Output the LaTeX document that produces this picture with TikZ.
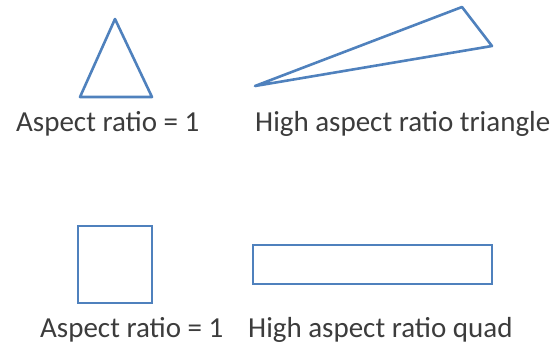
\documentclass[tikz,border=0pt]{standalone}
\usepackage{fontspec}
\setmainfont{Carlito}
\definecolor{shapeblue}{RGB}{79,129,189}
\definecolor{labelgray}{RGB}{60,60,60}

\begin{document}
\begin{tikzpicture}[x=1pt, y=-1pt,
    outline/.style={draw=shapeblue, line width=2.6pt, line join=round},
    caption/.style={anchor=base west, inner sep=0pt, text=labelgray, font=\fontsize{29}{32}\selectfont}]
    \useasboundingbox (0,0) rectangle (555,346);

    % 等边三角形
    \coordinate (ta) at (115,19);
    \coordinate (tb) at (80,97);
    \coordinate (tc) at (152,97);
    \draw[outline] (ta) -- (tb) -- (tc) -- cycle;
    \node[caption] (lab1) at (16,131) {Aspect ratio = 1};

    % 狭长三角形
    \coordinate (sa) at (255,86);
    \coordinate (sb) at (462,7);
    \coordinate (sc) at (492,46);
    \draw[outline] (sa) -- (sb) -- (sc) -- cycle;
    \node[caption] (lab2) at (255,131) {High aspect ratio triangle};

    % 正方形
    \coordinate (qa) at (78,226);
    \coordinate (qb) at (152,303);
    \draw[outline, line join=miter] (qa) rectangle (qb);
    \node[caption] (lab3) at (40,337) {Aspect ratio = 1};

    % 狭长四边形
    \coordinate (ra) at (253,245);
    \coordinate (rb) at (492,284);
    \draw[outline, line join=miter] (ra) rectangle (rb);
    \node[caption] (lab4) at (248,337) {High aspect ratio quad};
\end{tikzpicture}
\end{document}
